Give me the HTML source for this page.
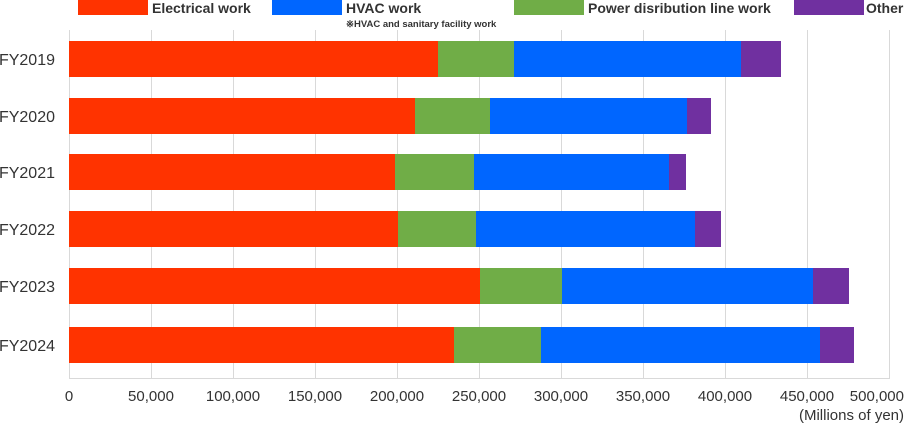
<!DOCTYPE html>
<html><head><meta charset="utf-8"><style>
body{margin:0;width:905px;height:424px;background:#fff;overflow:hidden;font-family:"Liberation Sans",sans-serif;}
</style></head><body>
<svg width="905" height="424" xmlns="http://www.w3.org/2000/svg" font-family="Liberation Sans, sans-serif">
<g stroke="#d9d9d9" stroke-width="1">
<line x1="69.5" y1="30" x2="69.5" y2="378"/><line x1="151.5" y1="30" x2="151.5" y2="378"/><line x1="233.5" y1="30" x2="233.5" y2="378"/><line x1="315.5" y1="30" x2="315.5" y2="378"/><line x1="397.5" y1="30" x2="397.5" y2="378"/><line x1="479.5" y1="30" x2="479.5" y2="378"/><line x1="561.5" y1="30" x2="561.5" y2="378"/><line x1="643.5" y1="30" x2="643.5" y2="378"/><line x1="725.5" y1="30" x2="725.5" y2="378"/><line x1="807.5" y1="30" x2="807.5" y2="378"/><line x1="889.5" y1="30" x2="889.5" y2="378"/>
<line x1="69" y1="378.5" x2="890" y2="378.5"/>
</g>
<g>
<rect x="69" y="41" width="369" height="36" fill="#ff3300"/><rect x="438" y="41" width="76" height="36" fill="#70ad47"/><rect x="514" y="41" width="227" height="36" fill="#0066ff"/><rect x="741" y="41" width="40" height="36" fill="#7030a0"/>
<rect x="69" y="98" width="346" height="36" fill="#ff3300"/><rect x="415" y="98" width="75" height="36" fill="#70ad47"/><rect x="490" y="98" width="197" height="36" fill="#0066ff"/><rect x="687" y="98" width="24" height="36" fill="#7030a0"/>
<rect x="69" y="154" width="326" height="36" fill="#ff3300"/><rect x="395" y="154" width="79" height="36" fill="#70ad47"/><rect x="474" y="154" width="195" height="36" fill="#0066ff"/><rect x="669" y="154" width="17" height="36" fill="#7030a0"/>
<rect x="69" y="211" width="329" height="36" fill="#ff3300"/><rect x="398" y="211" width="78" height="36" fill="#70ad47"/><rect x="476" y="211" width="219" height="36" fill="#0066ff"/><rect x="695" y="211" width="26" height="36" fill="#7030a0"/>
<rect x="69" y="268" width="411" height="36" fill="#ff3300"/><rect x="480" y="268" width="82" height="36" fill="#70ad47"/><rect x="562" y="268" width="251" height="36" fill="#0066ff"/><rect x="813" y="268" width="36" height="36" fill="#7030a0"/>
<rect x="69" y="327" width="385" height="36" fill="#ff3300"/><rect x="454" y="327" width="87" height="36" fill="#70ad47"/><rect x="541" y="327" width="279" height="36" fill="#0066ff"/><rect x="820" y="327" width="34" height="36" fill="#7030a0"/>
</g>
<g font-size="16" fill="#333" text-anchor="end">
<text x="55" y="65">FY2019</text><text x="55" y="122">FY2020</text><text x="55" y="178">FY2021</text><text x="55" y="235">FY2022</text><text x="55" y="292">FY2023</text><text x="55" y="351">FY2024</text>
</g>
<g font-size="15" fill="#333" text-anchor="middle">
<text x="69" y="401">0</text><text x="151" y="401">50,000</text><text x="233" y="401">100,000</text><text x="315" y="401">150,000</text><text x="397" y="401">200,000</text><text x="479" y="401">250,000</text><text x="561" y="401">300,000</text><text x="643" y="401">350,000</text><text x="725" y="401">400,000</text><text x="807" y="401">450,000</text><text x="904" y="401" text-anchor="end">500,000</text>
<text x="904" y="420" text-anchor="end">(Millions of yen)</text>
</g>
<g font-size="14" font-weight="bold" fill="#333">
<rect x="78" y="0" width="70" height="15" fill="#ff3300"/><text x="152" y="13">Electrical work</text>
<rect x="272" y="0" width="70" height="15" fill="#0066ff"/><text x="346" y="13">HVAC work</text>
<rect x="514" y="0" width="70" height="15" fill="#70ad47"/><text x="588" y="13">Power disribution line work</text>
<rect x="794" y="0" width="70" height="15" fill="#7030a0"/><text x="866" y="13">Other</text>
<text x="346" y="27" font-size="9.5">※HVAC and sanitary facility work</text>
</g>
</svg>
</body></html>
